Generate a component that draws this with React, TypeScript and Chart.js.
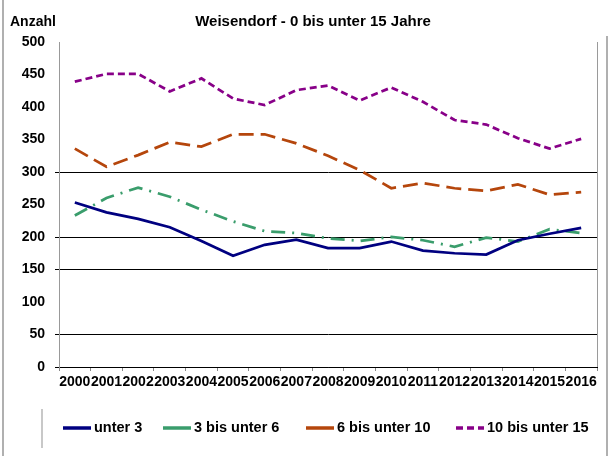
import React, { useEffect, useRef } from 'react';
import { Chart, registerables } from 'chart.js';
Chart.register(...registerables);

const W = 613;
const H = 456;
const FONT = '"Liberation Sans", Arial, Helvetica, sans-serif';

const title = 'Weisendorf - 0 bis unter 15 Jahre';
const yAxisTitle = 'Anzahl';
const years = ['2000', '2001', '2002', '2003', '2004', '2005', '2006', '2007', '2008', '2009', '2010', '2011', '2012', '2013', '2014', '2015', '2016'];
const seriesNames = ['unter 3', '3 bis unter 6', '6 bis unter 10', '10 bis unter 15'];
const unter3 = [253, 238, 228, 215, 194, 171, 188, 196, 183, 183, 193, 179, 175, 173, 195, 205, 214];
const bis6 = [233, 260, 276, 262, 242, 224, 209, 206, 198, 194, 200, 195, 185, 199, 193, 212, 206];
const bis10 = [336, 308, 326, 346, 339, 358, 358, 344, 325, 303, 275, 283, 275, 271, 281, 265, 269];
const bis15 = [439, 451, 451, 424, 444, 413, 403, 426, 433, 410, 430, 408, 380, 373, 352, 336, 351];
const gridValues = [0, 50, 150, 200, 300];

const colors = ['#000080', '#3a9d6c', '#b5460c', '#880088'];
const dashes = [[], [14, 7, 2, 7], [15, 7], [7, 4]];
const legendDashes = [[], [], [], [7, 4]];
const legendStarts = [63, 163, 306, 456];

export default function App() {
  const ref = useRef<HTMLCanvasElement>(null);
  useEffect(() => {
    if (!ref.current) return;
    const deco = {
      id: 'deco',
      beforeDraw(chart: any) {
        const ctx = chart.ctx;
        ctx.save();
        ctx.fillStyle = '#ffffff';
        ctx.fillRect(0, 0, W, H);
        ctx.restore();
      },
      afterDraw(chart: any) {
        const ctx = chart.ctx as CanvasRenderingContext2D;
        const a = chart.chartArea;
        ctx.save();
        ctx.strokeStyle = '#9a9a9a';
        ctx.lineWidth = 1;
        ctx.beginPath();
        ctx.moveTo(Math.round(a.right) + 0.5, a.top);
        ctx.lineTo(Math.round(a.right) + 0.5, a.bottom);
        ctx.stroke();
        ctx.strokeStyle = '#b0b0b0';
        ctx.lineWidth = 2;
        ctx.beginPath();
        ctx.moveTo(3, 0);
        ctx.lineTo(3, H);
        ctx.moveTo(607, 36);
        ctx.lineTo(607, H);
        ctx.stroke();
        ctx.strokeStyle = '#c8c8c8';
        ctx.beginPath();
        ctx.moveTo(42, 409);
        ctx.lineTo(42, 448);
        ctx.stroke();

        ctx.fillStyle = '#000';
        ctx.textBaseline = 'middle';
        ctx.font = `bold 15px ${FONT}`;
        ctx.textAlign = 'center';
        ctx.fillText(title, 313, 22);
        ctx.font = `bold 14px ${FONT}`;
        ctx.textAlign = 'left';
        ctx.fillText(yAxisTitle, 10, 22);

        // legend
        ctx.font = `bold 14.5px ${FONT}`;
        const ly = 428;
        chart.data.datasets.forEach((ds: any, i: number) => {
          const x = legendStarts[i];
          ctx.strokeStyle = ds.borderColor;
          ctx.lineWidth = 3.5;
          ctx.setLineDash(legendDashes[i]);
          ctx.beginPath();
          ctx.moveTo(x, ly);
          ctx.lineTo(x + 28, ly);
          ctx.stroke();
          ctx.setLineDash([]);
          ctx.fillStyle = '#000';
          ctx.fillText(ds.label, x + 31, ly);
        });
        ctx.restore();
      },
    };
    const series = [unter3, bis6, bis10, bis15];
    const chart = new Chart(ref.current, {
      type: 'line',
      data: {
        labels: years,
        datasets: series.map((d, i) => ({
          label: seriesNames[i],
          data: d,
          borderColor: colors[i],
          backgroundColor: colors[i],
          borderWidth: 2.75,
          borderDash: dashes[i],
          borderCapStyle: 'butt',
          pointRadius: 0,
          tension: 0,
          fill: false,
        })),
      },
      options: {
        animation: false,
        responsive: false,
        layout: { padding: { top: 42, right: 16, left: 0, bottom: 0 } },
        plugins: { legend: { display: false }, title: { display: false }, tooltip: { enabled: false } },
        scales: {
          x: {
            offset: true,
            grid: { offset: true, drawOnChartArea: false, color: '#888', tickLength: 4 },
            border: { color: '#000', width: 1 },
            ticks: { color: '#000', font: { family: FONT, size: 14, weight: 'bold' }, maxRotation: 0, autoSkip: false, padding: 3 },
            afterFit(s: any) { s.height = 89; },
          },
          y: {
            min: 0,
            max: 500,
            ticks: { stepSize: 50, color: '#000', font: { family: FONT, size: 14, weight: 'bold' }, padding: 10 },
            grid: {
              color: (c: any) => (gridValues.includes(c.tick?.value) ? '#000' : 'rgba(0,0,0,0)'),
              tickLength: 4,
            },
            border: { color: '#999', width: 1 },
            afterFit(s: any) { s.width = 59; },
          },
        },
      },
      plugins: [deco],
    } as any);
    return () => chart.destroy();
  }, []);
  return (
    <div style={{ position: 'absolute', left: 0, top: 0, width: W, height: H }}>
      <canvas ref={ref} width={W} height={H} style={{ width: W, height: H, display: 'block' }} />
    </div>
  );
}
